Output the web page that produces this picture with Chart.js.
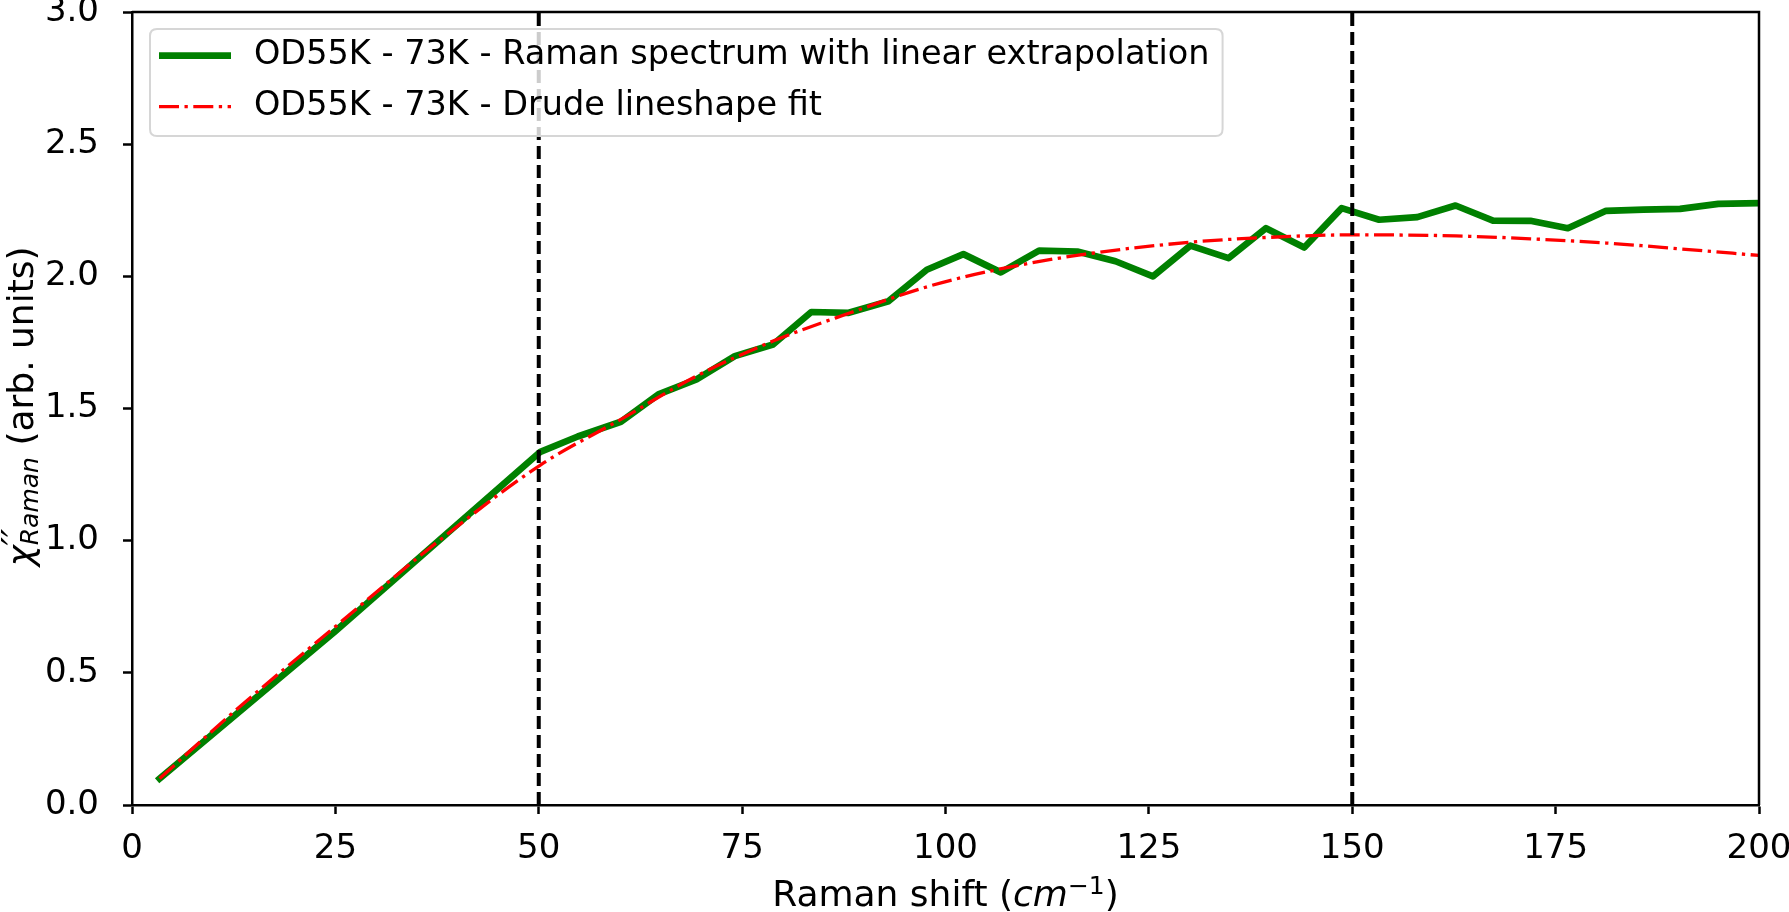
<!DOCTYPE html>
<html>
<head>
<meta charset="utf-8">
<title>Raman spectrum vs Drude fit</title>
<script src="https://cdn.jsdelivr.net/npm/chart.js@4.4.1/dist/chart.umd.min.js"></script>
<style>
    html, body { margin: 0; padding: 0; background: #ffffff; }
    #wrap { width: 1789px; height: 912px; }
</style>
</head>
<body>
<div id="wrap"><canvas id="ramanChart" width="1789" height="912"></canvas></div>
<script>
// measured spectrum (green), linear extrapolation below 50 cm-1
const ramanShift = [3.4, 25.0, 50.2, 54.8, 60.1, 64.7, 69.4, 74.1, 78.8, 83.5, 88.1, 93.0,
    97.7, 102.2, 106.8, 111.5, 116.2, 120.9, 125.5, 130.1, 134.8, 139.4, 144.1, 148.7,
    153.3, 158.0, 162.7, 167.3, 171.9, 176.5, 181.2, 185.8, 190.3, 195.0, 199.6];
const ramanChi = [0.10, 0.658, 1.336, 1.394, 1.450, 1.553, 1.610, 1.698, 1.742, 1.865, 1.862, 1.906,
    2.025, 2.084, 2.015, 2.097, 2.094, 2.057, 2.000, 2.116, 2.069, 2.182, 2.109, 2.258,
    2.214, 2.224, 2.268, 2.211, 2.210, 2.182, 2.248, 2.252, 2.255, 2.274, 2.277];

// Drude lineshape fit (red, dash-dot)
const drudeShift = [3.4, 12.5, 25.0, 37.5, 50.2, 60.1, 69.4, 78.8, 88.3, 97.9, 106.9, 117.2,
    130.1, 139.4, 150.0, 162.7, 171.9, 181.2, 190.3, 200.0];
const drudeChi = [0.10, 0.352, 0.675, 0.994, 1.286, 1.459, 1.623, 1.755, 1.862, 1.962, 2.029, 2.084,
    2.129, 2.147, 2.157, 2.153, 2.142, 2.126, 2.104, 2.079];

// vertical dashed markers
const markerShifts = [50, 150];

const xTicks = [0, 25, 50, 75, 100, 125, 150, 175, 200];
const yTicks = [0.0, 0.5, 1.0, 1.5, 2.0, 2.5, 3.0];

const seriesLabels = [
    "OD55K - 73K - Raman spectrum with linear extrapolation",
    "OD55K - 73K - Drude lineshape fit"
];

const FONT = '"DejaVu Sans", sans-serif';
const TICK_SIZE = 34;
const LEGEND_SIZE = 33.5;
const TITLE_SIZE = 36;

Chart.defaults.font.family = FONT;
Chart.defaults.color = "#000000";

// text with sub/superscripts, drawn left to right around a centre
function drawRich(ctx, parts, cx, baseY) {
    const widths = parts.map(p => {
        ctx.font = p.font;
        return ctx.measureText(p.text).width;
    });
    const total = parts.reduce((s, p, i) => s + (p.stack ? 0 : widths[i]), 0);
    let x = cx - total / 2;
    ctx.textAlign = "left";
    ctx.textBaseline = "alphabetic";
    ctx.fillStyle = "#000000";
    parts.forEach((p, i) => {
        ctx.font = p.font;
        ctx.fillText(p.text, x, baseY - (p.rise || 0));
        if (!p.stack) {
            x += widths[i];
        }
    });
}

const mainFont = TITLE_SIZE + "px " + FONT;
const mainItalic = "italic " + TITLE_SIZE + "px " + FONT;
const smallFont = Math.round(TITLE_SIZE * 0.7) + "px " + FONT;
const smallItalic = "italic " + Math.round(TITLE_SIZE * 0.7) + "px " + FONT;

const xTitleParts = [
    { text: "Raman shift (", font: mainFont },
    { text: "cm", font: mainItalic },
    { text: "\u22121", font: smallFont, rise: 12 },
    { text: ")", font: mainFont }
];

const yTitleParts = [
    { text: "\u03c7", font: mainItalic },
    { text: "\u2032\u2032", font: mainItalic, rise: 6, stack: true },
    { text: "Raman", font: smallItalic, rise: -5 },
    { text: " (arb. units)", font: mainFont }
];

const axisTitles = {
    id: "axisTitles",
    afterDraw(chart) {
        const ctx = chart.ctx;
        const area = chart.chartArea;
        ctx.save();
        drawRich(ctx, xTitleParts, (area.left + area.right) / 2, 906);
        ctx.translate(33, (area.top + area.bottom) / 2 - 2);
        ctx.rotate(-Math.PI / 2);
        drawRich(ctx, yTitleParts, 0, 0);
        ctx.restore();
    }
};

// top / right spines like a matplotlib frame
const frameBox = {
    id: "frameBox",
    afterDraw(chart) {
        const ctx = chart.ctx;
        const a = chart.chartArea;
        ctx.save();
        ctx.strokeStyle = "#000000";
        ctx.lineWidth = 2.5;
        ctx.beginPath();
        ctx.moveTo(a.left, a.top);
        ctx.lineTo(a.right, a.top);
        ctx.lineTo(a.right, a.bottom);
        ctx.stroke();
        ctx.restore();
    }
};

// legend box in the upper left corner of the plot
const frameLegend = {
    id: "frameLegend",
    afterDraw(chart) {
        const ctx = chart.ctx;
        const items = chart.data.datasets.filter(d => d.label);
        const font = LEGEND_SIZE + "px " + FONT;
        ctx.save();
        ctx.font = font;
        const textX = 254;
        const maxW = Math.max(...items.map(d => ctx.measureText(d.label).width));
        const left = 150, top = 29, bottom = 136;
        const right = textX + maxW + 13;
        const r = 7;

        ctx.beginPath();
        ctx.moveTo(left + r, top);
        ctx.lineTo(right - r, top);
        ctx.quadraticCurveTo(right, top, right, top + r);
        ctx.lineTo(right, bottom - r);
        ctx.quadraticCurveTo(right, bottom, right - r, bottom);
        ctx.lineTo(left + r, bottom);
        ctx.quadraticCurveTo(left, bottom, left, bottom - r);
        ctx.lineTo(left, top + r);
        ctx.quadraticCurveTo(left, top, left + r, top);
        ctx.closePath();
        ctx.fillStyle = "rgba(255,255,255,0.8)";
        ctx.fill();
        ctx.strokeStyle = "#d6d6d6";
        ctx.lineWidth = 2;
        ctx.stroke();

        const rows = [55.7, 106.7];
        items.forEach((d, i) => {
            const y = rows[i];
            ctx.strokeStyle = d.borderColor;
            ctx.lineWidth = d.borderWidth;
            ctx.lineCap = "butt";
            ctx.setLineDash(d.borderDash || []);
            ctx.beginPath();
            ctx.moveTo(159, y);
            ctx.lineTo(231, y);
            ctx.stroke();
            ctx.setLineDash([]);
            ctx.fillStyle = "#000000";
            ctx.font = font;
            ctx.textAlign = "left";
            ctx.textBaseline = "middle";
            ctx.fillText(d.label, textX, y);
        });
        ctx.restore();
    }
};

const ramanPoints = ramanShift.map((x, i) => ({ x: x, y: ramanChi[i] }));
const drudePoints = drudeShift.map((x, i) => ({ x: x, y: drudeChi[i] }));

const markerSets = markerShifts.map(x => ({
    data: [{ x: x, y: yTicks[0] }, { x: x, y: yTicks[yTicks.length - 1] }],
    borderColor: "#000000",
    borderWidth: 4,
    borderDash: [13, 6],
    pointRadius: 0,
    order: 0
}));

const ctx = document.getElementById("ramanChart");

new Chart(ctx, {
    type: "line",
    data: {
        datasets: [{
            label: seriesLabels[0],
            data: ramanPoints,
            borderColor: "#008000",
            borderWidth: 6.7,
            borderCapStyle: "square",
            borderJoinStyle: "round",
            pointRadius: 0,
            tension: 0,
            clip: 0,
            order: 2
        }, {
            label: seriesLabels[1],
            data: drudePoints,
            borderColor: "#ff0000",
            borderWidth: 3.3,
            borderDash: [20, 5.5, 3.3, 5.5],
            pointRadius: 0,
            cubicInterpolationMode: "monotone",
            order: 1
        }, ...markerSets]
    },
    options: {
        responsive: false,
        animation: false,
        devicePixelRatio: 1,
        layout: {
            padding: { top: 12, right: 30, left: 0, bottom: 0 }
        },
        plugins: {
            legend: { display: false },
            tooltip: { enabled: false }
        },
        scales: {
            x: {
                type: "linear",
                min: xTicks[0],
                max: xTicks[xTicks.length - 1],
                z: 1,
                afterBuildTicks: s => { s.ticks = xTicks.map(v => ({ value: v })); },
                afterFit: s => {
                    s.height = 107;
                    s.paddingLeft = 0;
                    s.paddingRight = 0;
                },
                ticks: {
                    padding: 15,
                    maxRotation: 0,
                    autoSkip: false,
                    font: { size: TICK_SIZE },
                    color: "#000000",
                    callback: v => String(v)
                },
                grid: {
                    drawOnChartArea: false,
                    drawTicks: true,
                    tickLength: 9,
                    tickWidth: 2.5,
                    tickColor: "#000000"
                },
                border: { display: true, color: "#000000", width: 2.5 }
            },
            y: {
                type: "linear",
                min: yTicks[0],
                max: yTicks[yTicks.length - 1],
                z: 1,
                afterBuildTicks: s => { s.ticks = yTicks.map(v => ({ value: v })); },
                afterFit: s => {
                    s.width = 132;
                    s.paddingTop = 0;
                    s.paddingBottom = 0;
                },
                ticks: {
                    padding: 24,
                    autoSkip: false,
                    font: { size: TICK_SIZE },
                    color: "#000000",
                    callback: v => v.toFixed(1)
                },
                grid: {
                    drawOnChartArea: false,
                    drawTicks: true,
                    tickLength: 9,
                    tickWidth: 2.5,
                    tickColor: "#000000"
                },
                border: { display: true, color: "#000000", width: 2.5 }
            }
        }
    },
    plugins: [frameBox, frameLegend, axisTitles]
});
</script>
</body>
</html>
